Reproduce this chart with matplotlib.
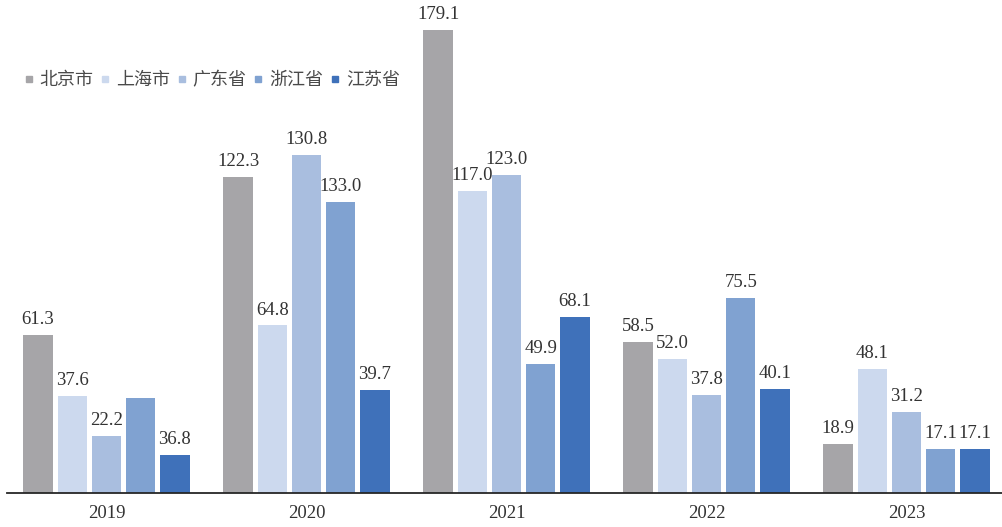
import numpy as np
from matplotlib import pyplot as plt
from matplotlib.lines import Line2D

years = ['2019', '2020', '2021', '2022', '2023']
regions = ['北京市', '上海市', '广东省', '浙江省', '江苏省']
colors = ['#A6A5A8', '#CCD9EE', '#A9BEDF', '#80A2D1', '#3F71BA']

# bar heights
beijing = [61.3, 122.3, 179.1, 58.5, 18.9]
shanghai = [37.6, 64.8, 117.0, 52.0, 48.1]
guangdong = [22.2, 130.8, 123.0, 37.8, 31.2]
zhejiang = [36.8, 112.6, 49.9, 75.5, 17.1]
jiangsu = [14.7, 39.7, 68.1, 40.1, 17.1]

# labels as printed on the chart ('' = no label)
beijing_lbl = ['61.3', '122.3', '179.1', '58.5', '18.9']
shanghai_lbl = ['37.6', '64.8', '117.0', '52.0', '48.1']
guangdong_lbl = ['22.2', '130.8', '123.0', '37.8', '31.2']
zhejiang_lbl = ['', '133.0', '49.9', '75.5', '17.1']
jiangsu_lbl = ['36.8', '39.7', '68.1', '40.1', '17.1']

series = [beijing, shanghai, guangdong, zhejiang, jiangsu]
labels = [beijing_lbl, shanghai_lbl, guangdong_lbl, zhejiang_lbl, jiangsu_lbl]

serif = ['Liberation Serif', 'Noto Sans CJK SC']
cjk = ['Noto Sans CJK SC', 'DejaVu Sans']

W, H = 1002, 527
fig = plt.figure(figsize=(W / 100, H / 100), dpi=100)
ax = fig.add_axes([6.5 / W, 34 / H, 995.5 / W, 493 / H])

x = np.arange(len(years))
step = 0.171
width = 0.147
for i, (vals, lbls) in enumerate(zip(series, labels)):
    pos = x + (i - 2) * step
    ax.bar(pos, vals, width, color=colors[i], zorder=2)
    for px, v, t in zip(pos, vals, lbls):
        if t:
            ax.annotate(t, (px, v), xytext=(0, 5), textcoords='offset points',
                        ha='center', va='bottom', fontsize=13.5,
                        family=serif, color='#333333')

ax.set_xlim(-0.5, -0.5 + 995.5 / 200)
ax.set_ylim(0, 190.7)
ax.set_yticks([])
ax.set_xticks(x)
ax.set_xticklabels(years, family=serif, fontsize=13.5, color='#333333')
ax.tick_params(axis='x', length=0, pad=9)
for s in ['top', 'right', 'left']:
    ax.spines[s].set_visible(False)
ax.spines['bottom'].set_color('#262626')
ax.spines['bottom'].set_linewidth(1.3)

handles = [Line2D([], [], marker='s', linestyle='none', markersize=5,
                  markerfacecolor=c, markeredgecolor=c) for c in colors]
leg = fig.legend(handles, regions, ncol=5, loc='center left',
                 bbox_to_anchor=(7 / W, 1 - 80 / H), frameon=False,
                 handlelength=0.6, handletextpad=0.3, columnspacing=0.35,
                 prop={'family': cjk, 'size': 13, 'weight': 'light'})
for t in leg.get_texts():
    t.set_color('#4a4a4a')

fig.savefig('out.png', dpi=100)
